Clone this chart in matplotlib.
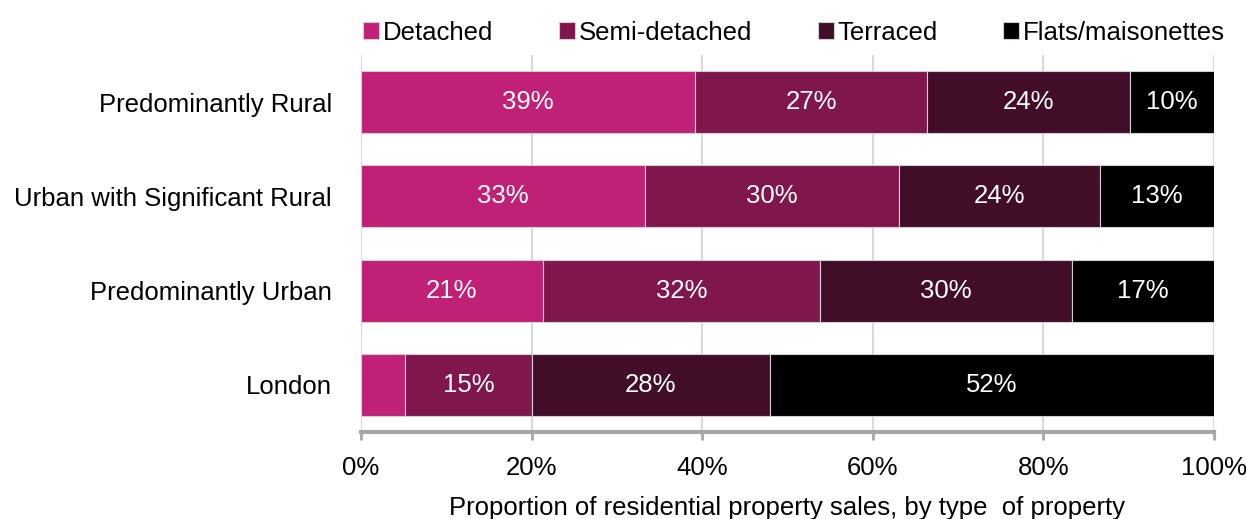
import numpy as np
import matplotlib.pyplot as plt

plt.rcParams['font.family'] = ['Liberation Sans', 'DejaVu Sans']

# Share of residential property sales by property type (%)
regions = ['Predominantly Rural', 'Urban with Significant Rural', 'Predominantly Urban', 'London']
types = ['Detached', 'Semi-detached', 'Terraced', 'Flats/maisonettes']
detached = [39.2, 33.3, 21.3, 5.2]
semi = [27.2, 29.8, 32.5, 14.8]
terraced = [23.8, 23.5, 29.6, 27.9]
flats = [9.8, 13.4, 16.6, 52.1]
colors = ['#C02176', '#7F164C', '#420D28', '#000000']

FS = 18.5

fig = plt.figure(figsize=(12.46, 5.19), dpi=100)
ax = fig.add_axes([0.2897, 0.1676, 0.6846, 0.7264])

y = np.arange(len(regions))
left = np.zeros(len(regions))
for name, vals, col in zip(types, [detached, semi, terraced, flats], colors):
    vals = np.array(vals)
    bars = ax.barh(y, vals, left=left, height=0.66, color=col, label=name,
                   edgecolor='#D0D0D0', linewidth=0.8, zorder=3)
    for b, v in zip(bars, vals):
        if v >= 8:
            ax.text(b.get_x() + b.get_width() / 2, b.get_y() + b.get_height() / 2,
                    f'{v:.0f}%', ha='center', va='center', color='white',
                    fontsize=FS, zorder=4)
    left += vals

ax.set_xlim(0, 100)
ax.set_ylim(3.5, -0.5)
ax.set_yticks(y)
ax.set_yticklabels(regions, fontsize=FS)
ax.tick_params(axis='y', length=0, pad=21)
ax.set_xticks(np.arange(0, 101, 20))
ax.set_xticklabels([f'{t}%' for t in range(0, 101, 20)], fontsize=FS)
ax.tick_params(axis='x', length=6, width=2, color='#A6A6A6', pad=11)
ax.grid(axis='x', color='#D9D9D9', linewidth=1.5, zorder=0)
for s in ['top', 'right', 'left']:
    ax.spines[s].set_visible(False)
ax.spines['bottom'].set_color('#A6A6A6')
ax.spines['bottom'].set_linewidth(3)

ax.set_xlabel('Proportion of residential property sales, by type  of property',
              fontsize=FS, labelpad=12)

ax.legend(loc='lower center', bbox_to_anchor=(0.508, 1.0), ncol=4, frameon=False,
          fontsize=FS, handlelength=0.62, handleheight=0.62, handletextpad=0.15,
          columnspacing=2.55, borderaxespad=0.0)

fig.savefig('out.png', dpi=100)
